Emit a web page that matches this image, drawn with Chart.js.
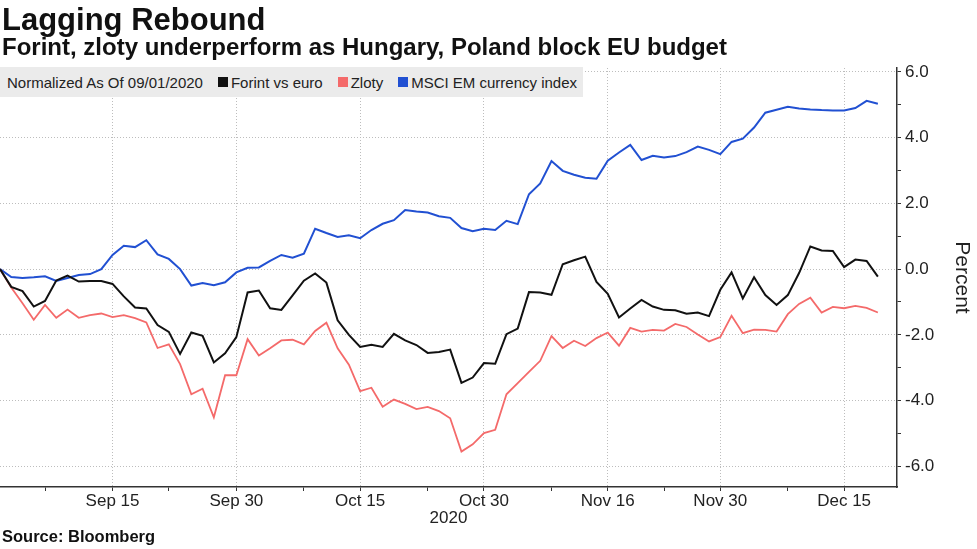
<!DOCTYPE html>
<html>
<head>
<meta charset="utf-8">
<script src="https://cdn.jsdelivr.net/npm/chart.js@4/dist/chart.umd.min.js"></script>
<style>
  body { margin: 0; background: #fff; }
  #wrap { position: relative; width: 977px; height: 549px; font-family: "Liberation Sans", Arial, sans-serif; color: #111; }
  #chart { position: absolute; left: 0; top: 0; }
  .txt { position: absolute; left: 2px; line-height: 1; white-space: nowrap; font-weight: bold; }
  #title { top: 4px; font-size: 31px; }
  #subtitle { top: 35px; font-size: 24px; }
  #source { top: 528px; font-size: 16.5px; }
  #legend { position: absolute; left: 0; top: 67px; width: 583px; height: 30px; background: #ebebeb;
            display: flex; align-items: center; font-size: 15px; color: #222; padding-left: 7px; box-sizing: border-box; }
  #legend .item { display: flex; align-items: center; margin-left: 15px; }
  #legend .sq { width: 10px; height: 10px; margin-right: 3px; }
</style>
</head>
<body>
<div id="wrap">
  <canvas id="chart" width="977" height="549"></canvas>
  <div class="txt" id="title">Lagging Rebound</div>
  <div class="txt" id="subtitle">Forint, zloty underperform as Hungary, Poland block EU budget</div>
  <div id="legend"><span>Normalized As Of 09/01/2020</span></div>
  <div class="txt" id="source">Source: Bloomberg</div>
</div>
<script>
// trading days from 09/01/2020 to 12/18/2020, x = day index
const forint = [0, -0.54, -0.67, -1.14, -0.97, -0.35, -0.20, -0.38, -0.36, -0.36,
  -0.45, -0.83, -1.17, -1.20, -1.70, -1.91, -2.58, -1.93, -2.03, -2.84,
  -2.56, -2.07, -0.71, -0.65, -1.19, -1.24, -0.80, -0.35, -0.13, -0.41,
  -1.56, -2.00, -2.37, -2.30, -2.37, -1.97, -2.17, -2.31, -2.55, -2.52,
  -2.45, -3.46, -3.30, -2.86, -2.88, -1.98, -1.81, -0.70, -0.71, -0.78,
  0.15, 0.27, 0.38, -0.39, -0.75, -1.47, -1.20, -0.94, -1.14, -1.24,
  -1.25, -1.36, -1.32, -1.43, -0.63, -0.10, -0.89, -0.25, -0.79, -1.09,
  -0.79, -0.12, 0.69, 0.57, 0.55, 0.06, 0.29, 0.25, -0.23];

const zloty = [0, -0.56, -1.04, -1.54, -1.09, -1.48, -1.23, -1.48, -1.40, -1.35,
  -1.46, -1.40, -1.49, -1.62, -2.40, -2.29, -2.89, -3.81, -3.64, -4.51,
  -3.23, -3.23, -2.13, -2.63, -2.41, -2.17, -2.15, -2.29, -1.88, -1.63,
  -2.41, -2.91, -3.71, -3.61, -4.19, -3.97, -4.10, -4.26, -4.19, -4.32,
  -4.54, -5.55, -5.33, -4.99, -4.89, -3.81, -3.47, -3.13, -2.79, -2.04,
  -2.40, -2.18, -2.34, -2.10, -1.93, -2.33, -1.79, -1.90, -1.85, -1.87,
  -1.67, -1.76, -1.99, -2.20, -2.07, -1.42, -1.95, -1.84, -1.85, -1.90,
  -1.37, -1.06, -0.87, -1.32, -1.15, -1.19, -1.12, -1.18, -1.32];

const msciEm = [0, -0.24, -0.27, -0.25, -0.22, -0.36, -0.27, -0.18, -0.15, 0.00,
  0.43, 0.71, 0.67, 0.88, 0.45, 0.31, 0.00, -0.50, -0.42, -0.49,
  -0.40, -0.10, 0.04, 0.05, 0.25, 0.43, 0.35, 0.47, 1.23, 1.10,
  0.98, 1.03, 0.94, 1.19, 1.38, 1.49, 1.80, 1.75, 1.72, 1.61,
  1.56, 1.25, 1.15, 1.23, 1.19, 1.47, 1.37, 2.28, 2.61, 3.29,
  2.99, 2.87, 2.78, 2.75, 3.30, 3.55, 3.78, 3.32, 3.45, 3.40,
  3.44, 3.56, 3.73, 3.63, 3.50, 3.87, 3.97, 4.31, 4.76, 4.85,
  4.94, 4.89, 4.86, 4.84, 4.83, 4.83, 4.90, 5.12, 5.03];

// x axis ticks (day index) and labels
const majorTicks = [10, 21, 32, 43, 54, 64, 75];
const majorLabels = ['Sep 15', 'Sep 30', 'Oct 15', 'Oct 30', 'Nov 16', 'Nov 30', 'Dec 15'];
const minorTicks = [4, 15, 27, 38, 49, 59, 70];
const yTicks = [-6, -5, -4, -3, -2, -1, 0, 1, 2, 3, 4, 5, 6];

const toPoints = arr => arr.map((v, i) => ({ x: i, y: v }));

const tickFont = { family: '"Liberation Sans", Arial, sans-serif', size: 17, lineHeight: 1 };
const gridGray = '#bdbdbd';

const ctx = document.getElementById('chart').getContext('2d');
const chart = new Chart(ctx, {
    type: 'line',
    data: {
        datasets: [
            { label: 'Forint vs euro', data: toPoints(forint), borderColor: '#111111', borderWidth: 2 },
            { label: 'Zloty', data: toPoints(zloty), borderColor: '#f46a6a', borderWidth: 1.8 },
            { label: 'MSCI EM currency index', data: toPoints(msciEm), borderColor: '#2150d2', borderWidth: 2 }
        ]
    },
    options: {
        responsive: false,
        animation: false,
        elements: { point: { radius: 0 }, line: { tension: 0 } },
        layout: { padding: { top: 68, left: 0, right: 0, bottom: 20 } },
        plugins: { legend: { display: false }, tooltip: { enabled: false } },
        scales: {
            x: {
                type: 'linear',
                min: 0,
                max: 79.7,
                afterBuildTicks: scale => {
                    scale.ticks = majorTicks.concat(minorTicks).sort((a, b) => a - b).map(v => ({ value: v }));
                },
                afterFit: scale => { scale.height = 42; },
                ticks: {
                    autoSkip: false,
                    maxRotation: 0,
                    padding: 2,
                    color: '#222',
                    font: tickFont,
                    callback: v => {
                        const k = majorTicks.indexOf(v);
                        return k >= 0 ? majorLabels[k] : '';
                    }
                },
                grid: {
                    color: c => (c.tick && majorTicks.includes(c.tick.value)) ? gridGray : 'rgba(0,0,0,0)',
                    tickColor: '#333',
                    tickLength: 4,
                    tickWidth: 1
                },
                border: { color: '#333', width: 1.5, dash: [1, 2] },
                title: {
                    display: true,
                    text: '2020',
                    color: '#222',
                    font: { family: '"Liberation Sans", Arial, sans-serif', size: 17 },
                    padding: { top: 0, bottom: 0 }
                }
            },
            y: {
                position: 'right',
                min: -6.63,
                max: 6.12,
                afterBuildTicks: scale => { scale.ticks = yTicks.map(v => ({ value: v })); },
                afterFit: scale => { scale.width = 80; },
                ticks: {
                    padding: 4,
                    color: '#222',
                    font: tickFont,
                    callback: v => (v % 2 === 0 ? v.toFixed(1) : '')
                },
                grid: {
                    color: c => (c.tick && c.tick.value % 2 === 0) ? gridGray : 'rgba(0,0,0,0)',
                    tickColor: '#333',
                    tickLength: 4,
                    tickWidth: 1
                },
                border: { color: '#333', width: 1.5, dash: [1, 2] },
                title: {
                    display: true,
                    text: 'Percent',
                    color: '#222',
                    font: { family: '"Liberation Sans", Arial, sans-serif', size: 21 },
                    padding: { top: 3, bottom: 0 }
                }
            }
        }
    }
});

// legend built from the datasets
const legend = document.getElementById('legend');
chart.data.datasets.forEach(ds => {
    const item = document.createElement('span');
    item.className = 'item';
    const sq = document.createElement('span');
    sq.className = 'sq';
    sq.style.background = ds.borderColor;
    item.appendChild(sq);
    item.appendChild(document.createTextNode(ds.label));
    legend.appendChild(item);
});
</script>
</body>
</html>
